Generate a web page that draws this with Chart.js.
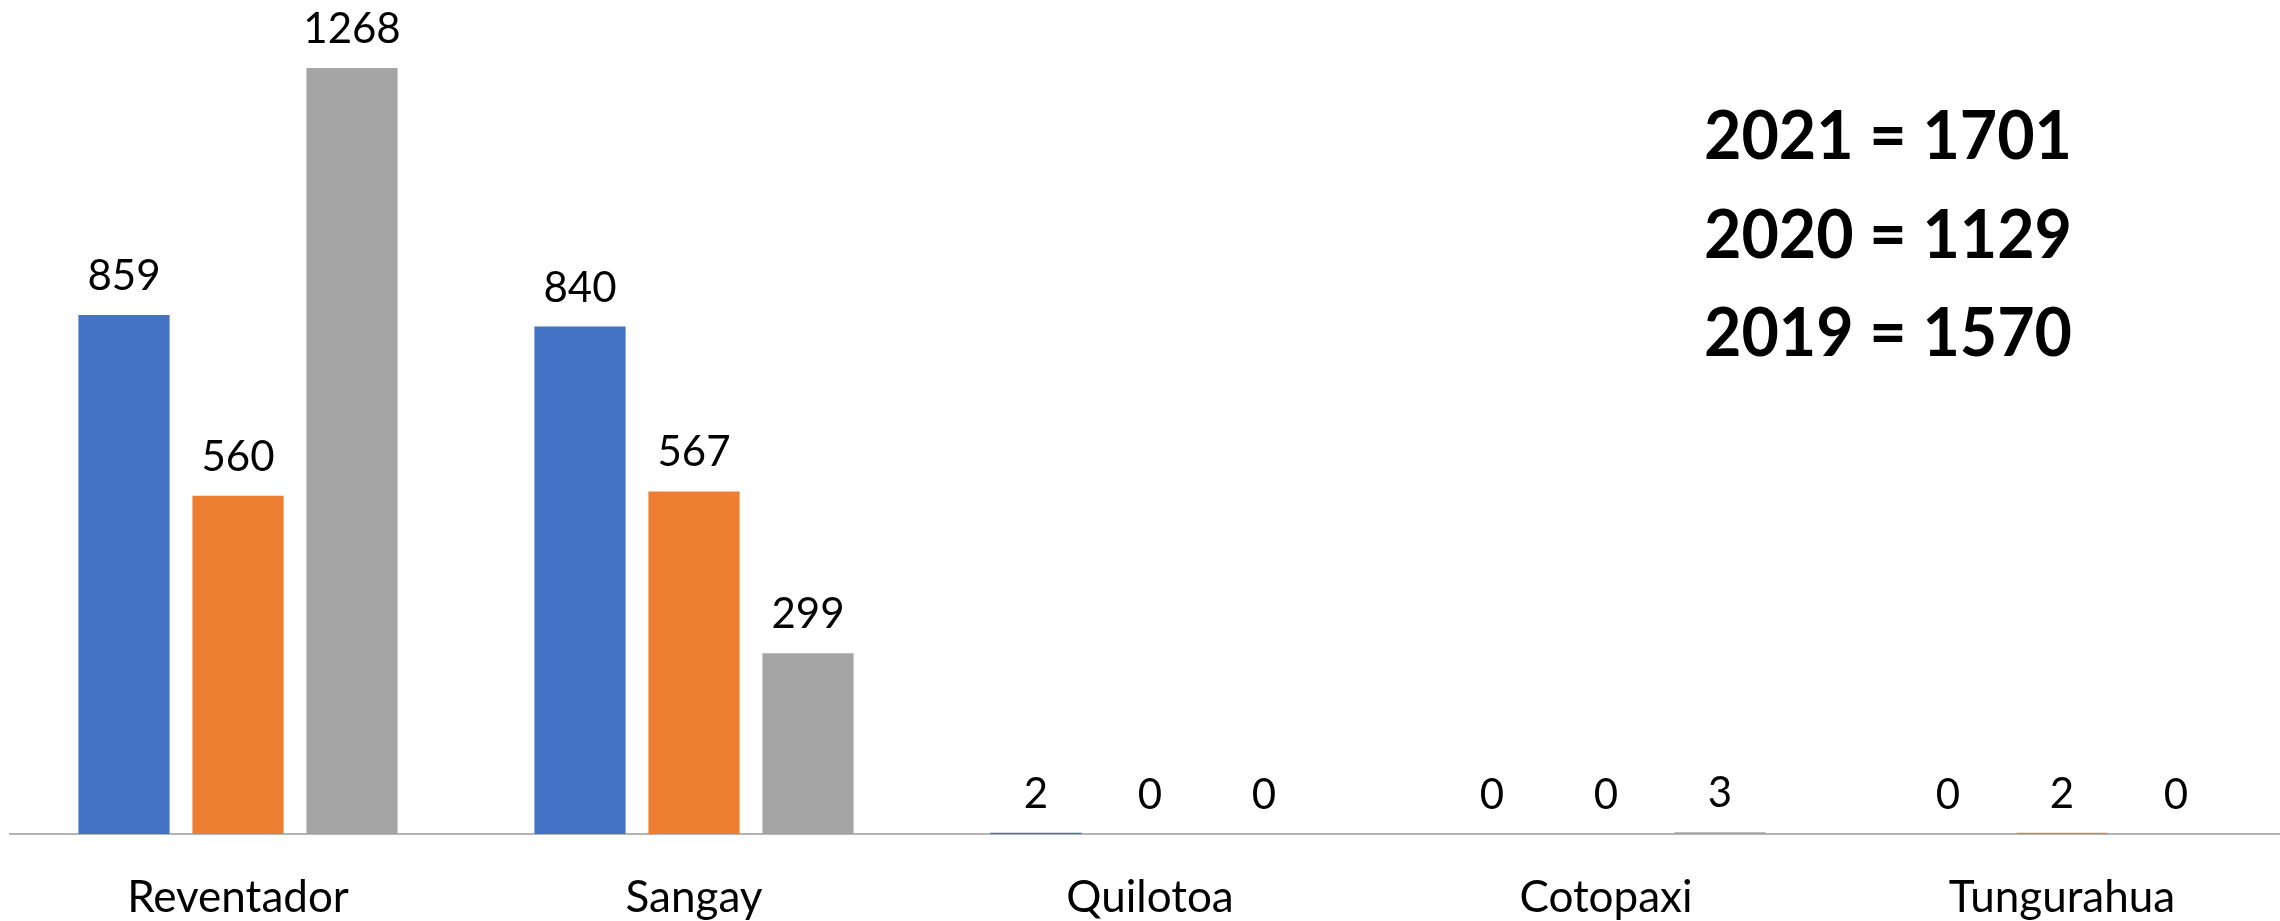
<!DOCTYPE html>
<html>
<head>
<meta charset="utf-8">
<script src="https://cdn.jsdelivr.net/npm/chart.js@4/dist/chart.umd.min.js"></script>
<style>
  html, body { margin: 0; padding: 0; background: #fff; overflow: hidden; }
  #wrap { width: 2300px; height: 921px; position: relative; }
</style>
</head>
<body>
<div id="wrap"><canvas id="volcanoChart"></canvas></div>
<script>
// Data
const volcanoes = ['Reventador', 'Sangay', 'Quilotoa', 'Cotopaxi', 'Tungurahua'];
const years = ['2021', '2020', '2019'];
const values2021 = [859, 840, 2, 0, 0];
const values2020 = [560, 567, 0, 0, 2];
const values2019 = [1268, 299, 0, 3, 0];
const seriesColors = ['#4472C4', '#ED7D31', '#A5A5A5'];

const allSeries = [values2021, values2020, values2019];

// value labels above each bar
const valueLabels = {
  id: 'valueLabels',
  afterDatasetsDraw(chart) {
    const c = chart.ctx;
    c.save();
    c.font = '42px Lato';
    c.fillStyle = '#000';
    c.textAlign = 'center';
    c.textBaseline = 'alphabetic';
    chart.data.datasets.forEach((ds, i) => {
      chart.getDatasetMeta(i).data.forEach((bar, j) => {
        c.fillText(String(ds.data[j]), bar.x, bar.y - 25);
      });
    });
    c.restore();
  }
};

// totals per year, top right
const totalsText = {
  id: 'totalsText',
  afterDraw(chart) {
    const c = chart.ctx;
    c.save();
    c.font = 'bold 67px Lato';
    c.fillStyle = '#000';
    c.textAlign = 'left';
    c.textBaseline = 'alphabetic';
    years.forEach((y, i) => {
      const total = allSeries[i].reduce((a, b) => a + b, 0);
      c.fillText(y + ' = ' + total, 1704, 159 + i * 98.5, 368);
    });
    c.restore();
  }
};

const ctx = document.getElementById('volcanoChart').getContext('2d');
new Chart(ctx, {
  type: 'bar',
  data: {
    labels: volcanoes,
    datasets: years.map((y, i) => ({
      label: y,
      data: allSeries[i],
      backgroundColor: seriesColors[i],
      borderWidth: 0,
      categoryPercentage: 0.75,
      barPercentage: 0.8
    }))
  },
  options: {
    responsive: true,
    maintainAspectRatio: false,
    animation: false,
    layout: {
      padding: { top: 10, left: 10, right: 10, bottom: 0 }
    },
    plugins: {
      legend: { display: false },
      tooltip: { enabled: false }
    },
    scales: {
      x: {
        grid: { display: false },
        border: { display: true, color: '#B4B4B4', width: 2 },
        ticks: {
          color: '#000',
          padding: 29,
          font: { family: 'Lato', size: 44, lineHeight: 1.2 }
        },
        afterFit(scale) { scale.height = 87; }
      },
      y: {
        display: false,
        min: 0,
        max: 1364
      }
    }
  },
  plugins: [valueLabels, totalsText]
});
</script>
</body>
</html>
